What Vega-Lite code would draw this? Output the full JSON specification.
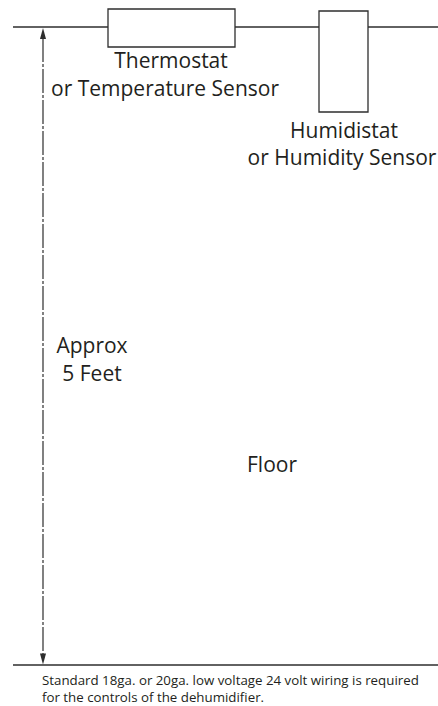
{
  "$schema": "https://vega.github.io/schema/vega-lite/v6.json",
  "width": 438,
  "height": 706,
  "autosize": {"type": "none"},
  "padding": 0,
  "background": "white",
  "config": {"view": {"stroke": null}},
  "datasets": {
    "lines": [
      {"part": "ceiling", "x": 13, "x2": 438, "y": 27},
      {"part": "floor", "x": 13, "x2": 438, "y": 665}
    ],
    "boxes": [
      {"name": "Thermostat", "x": 108, "x2": 235, "y": 9, "y2": 47},
      {"name": "Humidistat", "x": 319, "x2": 368, "y": 11, "y2": 112}
    ],
    "dim": [{"x": 43, "y": 38, "y2": 655}],
    "arrows": [
      {"dir": "up", "x": 43, "y": 33.5},
      {"dir": "down", "x": 43, "y": 659}
    ],
    "labels": [
      {"text": "Thermostat", "x": 171, "y": 62},
      {"text": "or Temperature Sensor", "x": 165, "y": 90},
      {"text": "Humidistat", "x": 344, "y": 132},
      {"text": "or Humidity Sensor", "x": 342, "y": 159},
      {"text": "Approx", "x": 92, "y": 347},
      {"text": "5 Feet", "x": 92, "y": 375},
      {"text": "Floor", "x": 272, "y": 466}
    ],
    "note": [
      {"text": "Standard 18ga. or 20ga. low voltage 24 volt wiring is required", "x": 42, "y": 681},
      {"text": "for the controls of the dehumidifier.", "x": 42, "y": 698}
    ]
  },
  "layer": [
    {
      "data": {"name": "lines"},
      "mark": {"type": "rule", "color": "#2e2e2e", "strokeWidth": 1.3},
      "encoding": {
        "x": {"field": "x", "type": "quantitative", "scale": {"domain": [0, 438], "nice": false, "zero": false}, "axis": null},
        "x2": {"field": "x2"},
        "y": {"field": "y", "type": "quantitative", "scale": {"domain": [0, 706], "nice": false, "zero": false, "reverse": true}, "axis": null}
      }
    },
    {
      "data": {"name": "boxes"},
      "mark": {"type": "rect", "fill": "white", "stroke": "#2e2e2e", "strokeWidth": 1.3},
      "encoding": {
        "x": {"field": "x", "type": "quantitative", "scale": {"domain": [0, 438], "nice": false, "zero": false}, "axis": null},
        "x2": {"field": "x2"},
        "y": {"field": "y", "type": "quantitative", "scale": {"domain": [0, 706], "nice": false, "zero": false, "reverse": true}, "axis": null},
        "y2": {"field": "y2"}
      }
    },
    {
      "data": {"name": "dim"},
      "mark": {"type": "rule", "color": "#2e2e2e", "strokeWidth": 1.2, "strokeDash": [24, 2, 3, 2]},
      "encoding": {
        "x": {"field": "x", "type": "quantitative", "scale": {"domain": [0, 438], "nice": false, "zero": false}, "axis": null},
        "y": {"field": "y", "type": "quantitative", "scale": {"domain": [0, 706], "nice": false, "zero": false, "reverse": true}, "axis": null},
        "y2": {"field": "y2"}
      }
    },
    {
      "data": {"name": "arrows"},
      "mark": {"type": "point", "filled": true, "color": "#2e2e2e", "opacity": 1, "size": 121},
      "encoding": {
        "x": {"field": "x", "type": "quantitative", "scale": {"domain": [0, 438], "nice": false, "zero": false}, "axis": null},
        "y": {"field": "y", "type": "quantitative", "scale": {"domain": [0, 706], "nice": false, "zero": false, "reverse": true}, "axis": null},
        "shape": {"field": "dir", "type": "nominal", "legend": null, "scale": {"domain": ["up", "down"], "range": ["M0,-1L0.55,1L-0.55,1Z", "M0,1L0.55,-1L-0.55,-1Z"]}}
      }
    },
    {
      "data": {"name": "labels"},
      "mark": {"type": "text", "align": "center", "baseline": "middle", "font": "Open Sans", "fontSize": 21, "color": "#231f20"},
      "encoding": {
        "x": {"field": "x", "type": "quantitative", "scale": {"domain": [0, 438], "nice": false, "zero": false}, "axis": null},
        "y": {"field": "y", "type": "quantitative", "scale": {"domain": [0, 706], "nice": false, "zero": false, "reverse": true}, "axis": null},
        "text": {"field": "text"}
      }
    },
    {
      "data": {"name": "note"},
      "mark": {"type": "text", "align": "left", "baseline": "middle", "font": "Open Sans", "fontSize": 13.3, "color": "#231f20"},
      "encoding": {
        "x": {"field": "x", "type": "quantitative", "scale": {"domain": [0, 438], "nice": false, "zero": false}, "axis": null},
        "y": {"field": "y", "type": "quantitative", "scale": {"domain": [0, 706], "nice": false, "zero": false, "reverse": true}, "axis": null},
        "text": {"field": "text"}
      }
    }
  ]
}
